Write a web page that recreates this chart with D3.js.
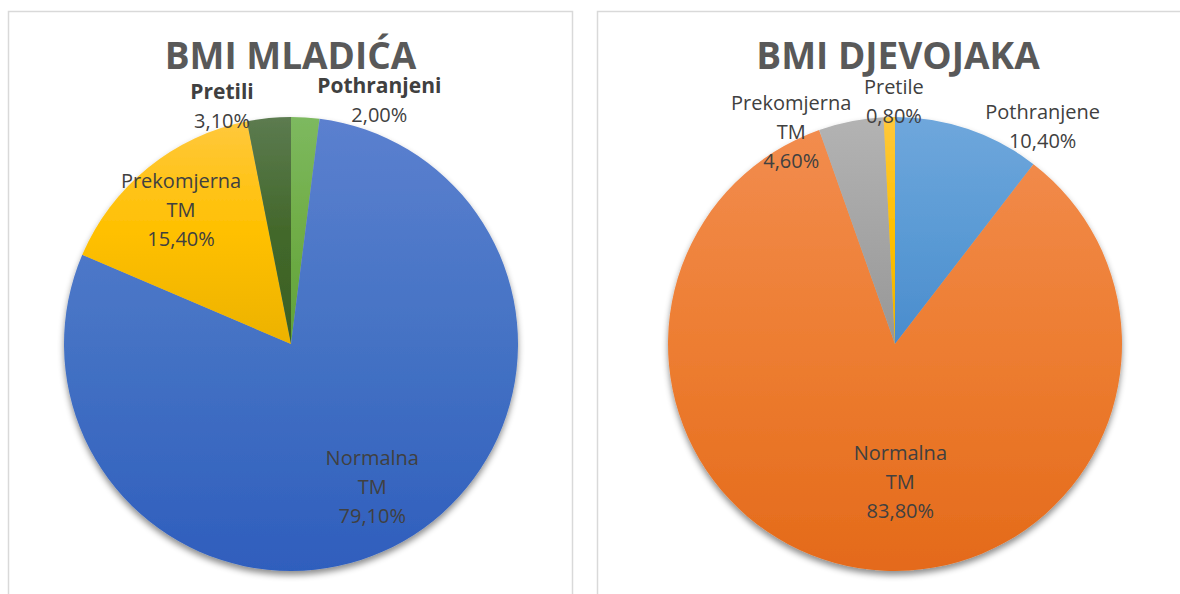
<!DOCTYPE html>
<html>
<head>
<meta charset="utf-8">
<script src="https://cdn.jsdelivr.net/npm/d3@7"></script>
<style>
  body { margin: 0; background: #ffffff; }
  text { font-family: "Open Sans", "Noto Sans", sans-serif; }
</style>
</head>
<body>
<div id="bmi-charts"></div>
<script>
// -------------------------------------------------------------------------
// Two pie charts: BMI of young men (left) and young women (right)
// -------------------------------------------------------------------------

// Data
const boysTitle = "BMI MLADIĆA";
const boysCategories = ["Pothranjeni", "Normalna TM", "Prekomjerna TM", "Pretili"];
const boysValues = [2.0, 79.1, 15.4, 3.1];

const girlsTitle = "BMI DJEVOJAKA";
const girlsCategories = ["Pothranjene", "Normalna TM", "Prekomjerna TM", "Pretile"];
const girlsValues = [10.4, 83.8, 4.6, 0.8];

// Colours: [top, middle, bottom] of the gradient for each slice
const boysColors = [
    ["#7db95f", "#70ad47", "#5fa23a"],
    ["#5b80cf", "#4472c4", "#2f5ebd"],
    ["#ffc83c", "#ffc000", "#ecb200"],
    ["#5c7b50", "#43682b", "#3a6022"]
];
const girlsColors = [
    ["#6fa7dc", "#5b9bd5", "#4a8ccd"],
    ["#f28c4e", "#ed7d31", "#e46a1a"],
    ["#b3b3b3", "#a5a5a5", "#979797"],
    ["#ffc83c", "#ffc000", "#ecb200"]
];
const boysBold = [true, false, false, true];
const girlsBold = [false, false, false, false];

// Layout
const W = 1180, H = 594;
const radius = 227;
const lineH = 29;
const fontSize = 20;
// label nudges relative to the arc centroid (labelArc)
const boysNudge = [[78, -80], [0, 1], [-7, -7], [-53, -75]];
const girlsNudge = [[95, -63], [31, -23], [-72, -52], [3, -79]];

const fmt = d3.formatLocale({decimal: ",", thousands: ".", grouping: [3], currency: ["", ""]}).format(".2f");

const svg = d3.select("#bmi-charts")
    .append("svg")
    .attr("width", W)
    .attr("height", H);

const defs = svg.append("defs");

// soft shadow under the pie
const shadow = defs.append("filter")
    .attr("id", "pie-shadow")
    .attr("x", "-10%").attr("y", "-10%")
    .attr("width", "120%").attr("height", "125%");
shadow.append("feDropShadow")
    .attr("dx", 0)
    .attr("dy", 4)
    .attr("stdDeviation", 3)
    .attr("flood-color", "#000")
    .attr("flood-opacity", 0.45);

function drawPie(panel, title, categories, values, colors, bold, nudge, id) {

    // Panel frame
    svg.append("rect")
        .attr("x", panel.x + 0.5)
        .attr("y", 11.5)
        .attr("width", panel.w)
        .attr("height", H + 20)
        .attr("fill", "none")
        .attr("stroke", "#d9d9d9")
        .attr("stroke-width", 1.5);

    // Title
    svg.append("text")
        .attr("x", panel.cx)
        .attr("y", 69)
        .attr("text-anchor", "middle")
        .style("font-size", "37px")
        .style("font-weight", "bold")
        .style("fill", "#595959")
        .text(title);

    const data = categories.map((c, i) => ({name: c, value: values[i], i: i}));

    const pie = d3.pie().sort(null).value(d => d.value);
    const arc = d3.arc().innerRadius(0).outerRadius(radius);
    const labelArc = d3.arc().innerRadius(radius * 0.72).outerRadius(radius * 0.72);

    // gradients, one per slice
    colors.forEach((c, i) => {
        const g = defs.append("linearGradient")
            .attr("id", `${id}-grad-${i}`)
            .attr("x1", 0).attr("y1", 0)
            .attr("x2", 0).attr("y2", 1);
        g.append("stop").attr("offset", "0%").attr("stop-color", c[0]);
        g.append("stop").attr("offset", "50%").attr("stop-color", c[1]);
        g.append("stop").attr("offset", "100%").attr("stop-color", c[2]);
    });

    const g = svg.append("g")
        .attr("transform", `translate(${panel.cx + panel.pieDx}, 344)`);

    g.append("g")
        .attr("filter", "url(#pie-shadow)")
        .selectAll("path")
        .data(pie(data))
        .join("path")
        .attr("d", arc)
        .attr("fill", d => `url(#${id}-grad-${d.data.i})`);

    // Labels
    const labels = g.selectAll("g.label")
        .data(pie(data))
        .join("g")
        .attr("class", "label")
        .attr("transform", d => {
            const c = labelArc.centroid(d);
            const n = nudge[d.data.i];
            return `translate(${c[0] + n[0]}, ${c[1] + n[1]})`;
        });

    labels.each(function (d) {
        const lines = d.data.name.split(" ");
        const all = lines.concat([fmt(d.data.value) + "%"]);
        const n = all.length;
        const t = d3.select(this).append("text")
            .attr("text-anchor", "middle")
            .style("font-size", fontSize + "px")
            .style("fill", "#404040");
        all.forEach((line, k) => {
            const isBold = k < lines.length && bold[d.data.i];
            t.append("tspan")
                .attr("x", 0)
                .attr("y", (k - (n - 1) / 2) * lineH + fontSize * 0.35)
                .style("font-weight", isBold ? "bold" : "normal")
                .style("font-size", isBold ? "21px" : null)
                .text(line);
        });
    });
}

drawPie({x: 8, w: 564, cx: 290.5, pieDx: 0.5}, boysTitle, boysCategories, boysValues,
    boysColors, boysBold, boysNudge, "boys");
drawPie({x: 597, w: 620, cx: 898, pieDx: -3}, girlsTitle, girlsCategories, girlsValues,
    girlsColors, girlsBold, girlsNudge, "girls");
</script>
</body>
</html>
